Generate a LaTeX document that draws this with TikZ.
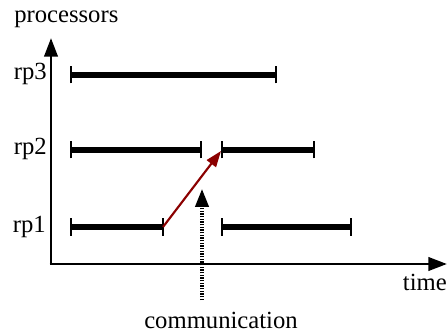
\documentclass[tikz,border=0pt]{standalone}
\usepackage{fontspec}
\setmainfont{Liberation Serif}
\usetikzlibrary{arrows.meta,positioning}
\definecolor{msgred}{HTML}{8B0000}
\tikzset{
  axis/.style={-{Triangle[length=14pt,width=10pt]},line width=2.2pt},
  taskbar/.style={line width=3.8pt},
  endtick/.style={line width=1.6pt},
  msg/.style={-{Triangle[length=12pt,width=8.5pt]},line width=1.6pt,msgred},
  comm/.style={-{Triangle[length=13.5pt,width=10pt]},line width=2.4pt,dash pattern=on 1pt off 1pt},
  lbl/.style={font=\fontsize{18.5}{20}\selectfont,inner sep=0pt}
}
% one busy interval: y, x start, x end
\newcommand{\task}[3]{%
  \draw[taskbar] (#2,#1)--(#3,#1);
  \foreach \xx in {#2,#3}{\draw[endtick] (\xx,#1-8.5)--(\xx,#1+8.5);}}

\begin{document}
\begin{tikzpicture}[x=0.75pt,y=0.75pt]
\useasboundingbox (0,0) rectangle (448,335);
% axes
\coordinate (o) at (51,71);
\coordinate (ytop) at (51,297);
\coordinate (xend) at (447,71);
\draw[axis] (o)--(ytop);
\draw[axis] ([xshift=-1pt]o)--(xend);
\node[lbl,anchor=base west] (proc) at (14,312) {processors};
\node[lbl,anchor=base east] (time) at (447,45) {time};
% processors
\node[lbl,anchor=base east] (rp3) at (47,255) {rp3};
\node[lbl,anchor=base east] (rp2) at (47,180) {rp2};
\node[lbl,anchor=base east] (rp1) at (46,103) {rp1};
\task{260}{71}{276}
\task{185}{71}{201}
\task{185}{222}{314}
\task{108}{71}{163}
\task{108}{222}{351}
% message
\coordinate (send) at (163,108);
\coordinate (recv) at (221,184);
\draw[msg] (send)--(recv);
\node[lbl,anchor=base] (comm) at (221,7) {communication};
\coordinate (cbot) at (202,35);
\coordinate (ctip) at (202,146);
\draw[comm] (cbot)--(ctip);
\end{tikzpicture}
\end{document}
